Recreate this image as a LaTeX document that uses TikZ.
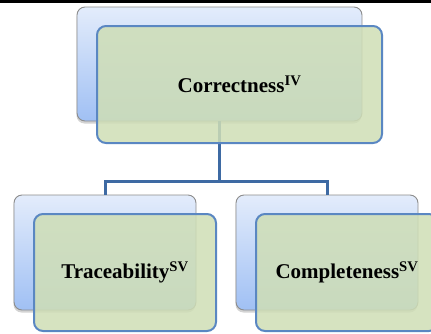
\documentclass[tikz,border=0pt]{standalone}
\usepackage{fontspec}
\setmainfont{Liberation Serif}
\usetikzlibrary{shadows}
\definecolor{backtop}{HTML}{E3ECFB}
\definecolor{backbot}{HTML}{A0C0F4}
\definecolor{backedge}{HTML}{8C8C8C}
\definecolor{frontfill}{HTML}{CFDEB6}
\definecolor{frontedge}{HTML}{5A87C2}
\definecolor{linkcol}{HTML}{3E6AA3}
\tikzset{
  backbox/.style={draw=backedge, line width=0.9pt, rounded corners=8pt,
    top color=backtop, bottom color=backbot,
    drop shadow={shadow xshift=-0.5pt, shadow yshift=-2.5pt, opacity=0.35},
    minimum width=#1, inner sep=0pt},
  frontbox/.style={draw=frontedge, line width=2pt, rounded corners=9pt,
    fill=frontfill, fill opacity=0.86, text opacity=1,
    minimum width=#1, inner sep=0pt,
    font=\fontsize{21}{25}\selectfont\bfseries},
  link/.style={draw=linkcol, line width=3pt}
}
\begin{document}
\begin{tikzpicture}[x=1pt,y=-1pt]
\useasboundingbox (0,0) rectangle (431,333);
\fill[black] (0,0) rectangle (431,2.5);
% rear cards
\node[backbox=285pt, minimum height=114pt] (b0) at (219.5,64) {};
\node[backbox=182pt, minimum height=115pt] (b1) at (105,252.5) {};
\node[backbox=182pt, minimum height=115pt] (b2) at (327,252.5) {};
% tree links
\coordinate (j) at (0,181);
\draw[link] (b0.south) -- (b0.south |- j) -| (b1.north);
\draw[link] (b0.south |- j) -| (b2.north);
% front cards with labels
\node[frontbox=285pt, minimum height=117pt] (g0) at (239.5,84.5) {Correctness\textsuperscript{IV}};
\node[frontbox=182pt, minimum height=117pt] (g1) at (125,272.5) {Traceability\textsuperscript{SV}};
\node[frontbox=182pt, minimum height=117pt] (g2) at (347,272.5) {Completeness\textsuperscript{SV}};
\end{tikzpicture}
\end{document}
